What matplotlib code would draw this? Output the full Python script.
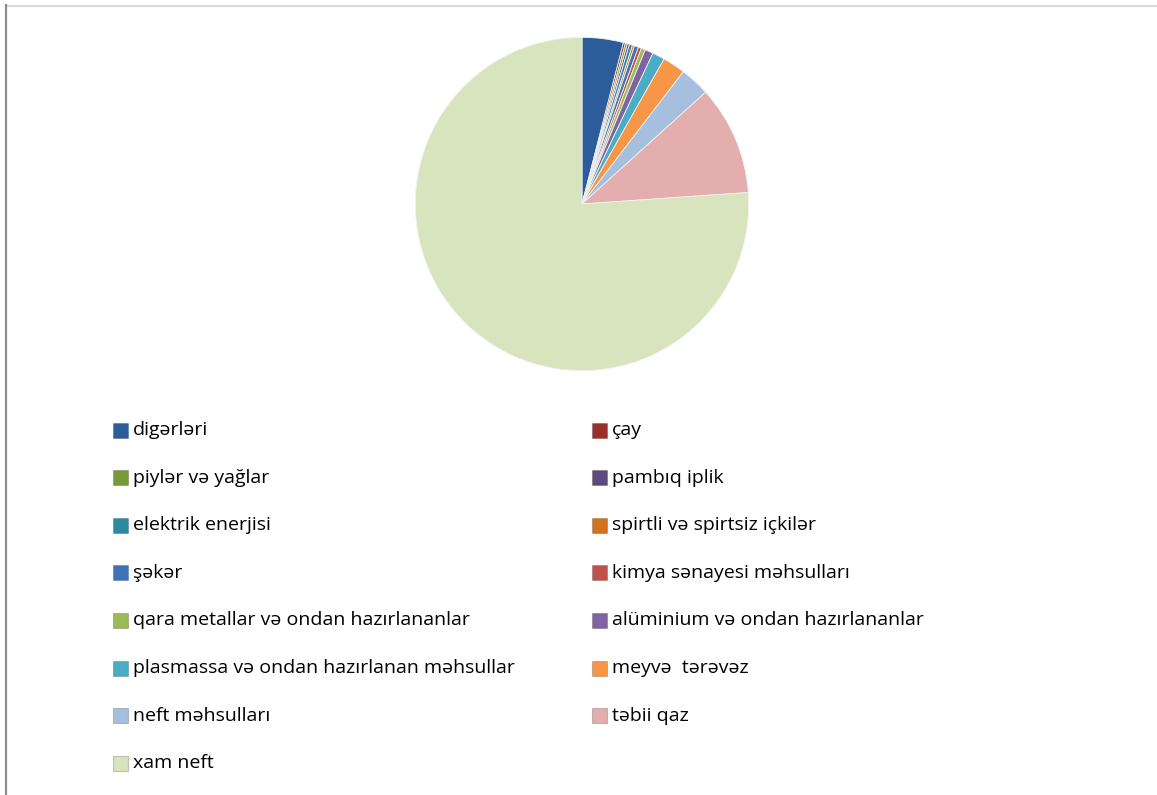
import matplotlib.pyplot as plt
from matplotlib.lines import Line2D
from matplotlib.patches import Rectangle

# export shares, % (clockwise from 12 o'clock)
labels = ['digərləri', 'çay', 'piylər və yağlar', 'pambıq iplik',
          'elektrik enerjisi', 'spirtli və spirtsiz içkilər', 'şəkər',
          'kimya sənayesi məhsulları', 'qara metallar və ondan hazırlananlar',
          'alüminium və ondan hazırlananlar',
          'plasmassa və ondan hazırlanan məhsullar', 'meyvə  tərəvəz',
          'neft məhsulları', 'təbii qaz', 'xam neft']
shares = [4.0, 0.2, 0.2, 0.2, 0.3, 0.2, 0.4, 0.3, 0.4, 0.8, 1.2, 2.2, 2.9, 10.6, 76.1]
colors = ['#2C5D9A', '#9C2F2C', '#7A9A3A', '#5E4A7E', '#2C8AA0', '#D2731F',
          '#3F73B8', '#C0504D', '#9BBB59', '#8064A2', '#4BACC6', '#F79646',
          '#A7BFDE', '#E3AEAD', '#D7E4BD']

W, H = 1157, 795
fig = plt.figure(figsize=(W / 100, H / 100), dpi=100)
plt.rcParams['font.family'] = ['Open Sans', 'DejaVu Sans']

# chart frame: light top edge, darker left edge
fig.add_artist(Line2D([7 / W, 1], [(H - 5.5) / H] * 2, transform=fig.transFigure,
                      color='#D9D9D9', linewidth=1.5))
fig.add_artist(Line2D([6 / W] * 2, [0, (H - 5) / H], transform=fig.transFigure,
                      color='#8C8C8C', linewidth=1.6))

# pie
cx, cy, r = 582, 204, 170
ax = fig.add_axes([(cx - r) / W, (H - cy - r) / H, 2 * r / W, 2 * r / H])
ax.pie(shares, colors=colors, startangle=90, counterclock=False,
       wedgeprops=dict(edgecolor='#F2F2F2', linewidth=0.6))
ax.set_xlim(-1.02, 1.02)
ax.set_ylim(-1.02, 1.02)
ax.set_aspect('equal')
ax.axis('off')

# legend, two columns, row-major
col_x = [113, 592]
row0, step = 430, 47.6
box = 15
for i, (lab, col) in enumerate(zip(labels, colors)):
    x = col_x[i % 2]
    y = row0 + (i // 2) * step
    fig.add_artist(Rectangle((x / W, (H - y - box / 2) / H), box / W, box / H,
                             transform=fig.transFigure, facecolor=col,
                             edgecolor='#00000030', linewidth=0.8))
    fig.text((x + box + 5) / W, (H - y) / H, lab, fontsize=14, va='center',
             ha='left', color='#000000')

fig.savefig('out.png', dpi=100)
